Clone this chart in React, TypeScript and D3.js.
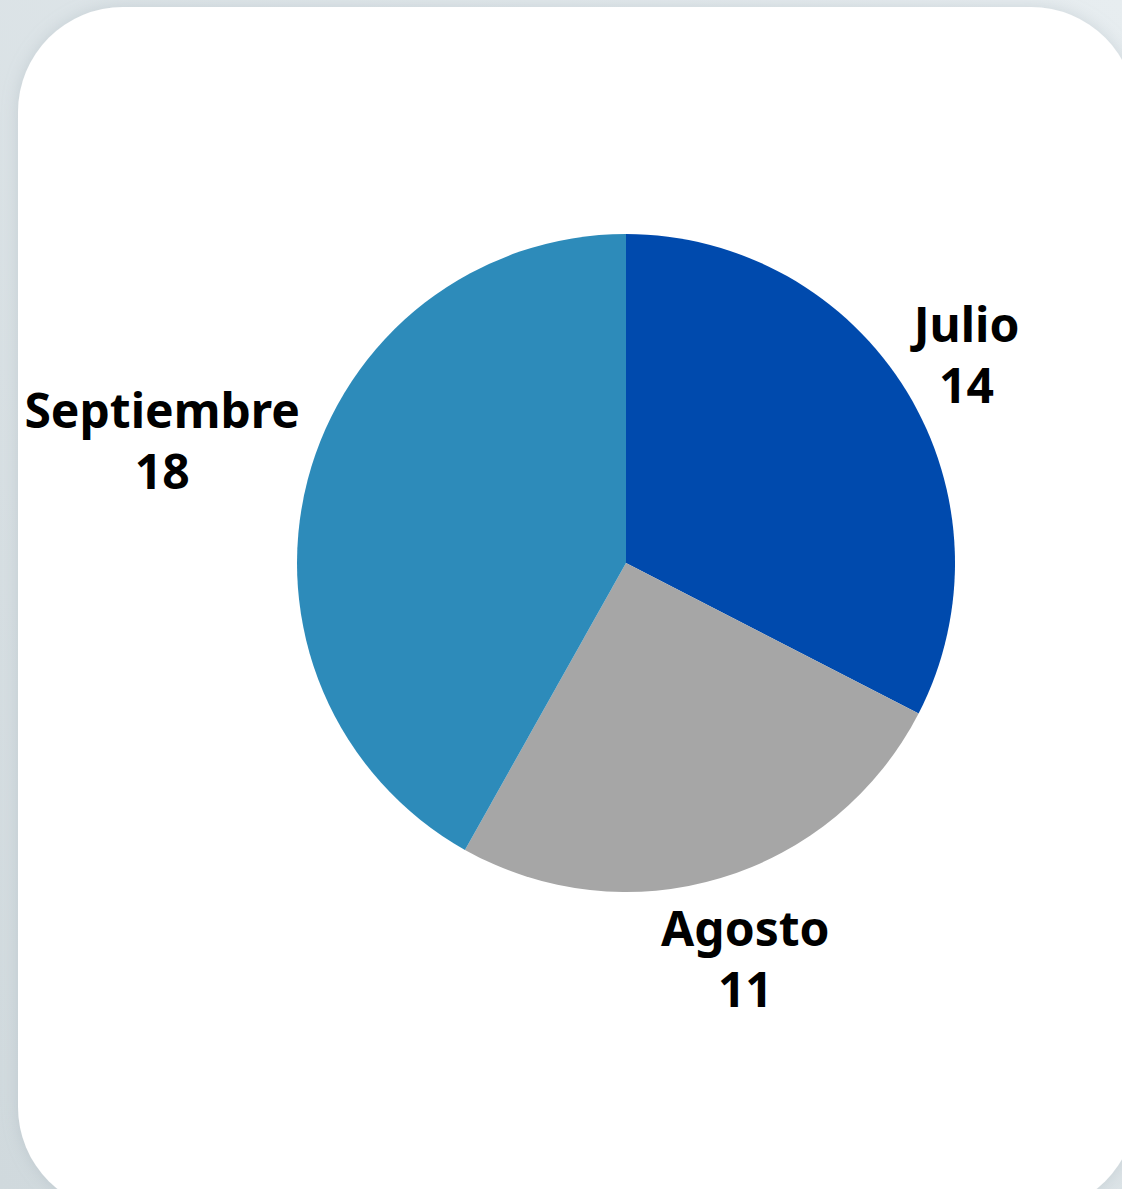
import React, { useEffect, useRef } from "react";
import * as d3 from "d3";

const months = ["Julio", "Agosto", "Septiembre"];
const counts = [14, 11, 18];
const sliceColors = ["#004AAD", "#A6A6A6", "#2D8BBA"];

const W = 1122;
const H = 1189;
const CX = 626;
const CY = 563;
const R = 329;
const FONT = 48;
const LINE_GAP = 61;
const CAP = 0.714 * FONT;
const OFFSET = 8;
const HALF_H = 74;

export default function App() {
  const ref = useRef<SVGSVGElement | null>(null);

  useEffect(() => {
    const svg = d3.select(ref.current);
    svg.selectAll("*").remove();

    const defs = svg.append("defs");
    const grad = defs
      .append("linearGradient")
      .attr("id", "bg")
      .attr("x1", "1")
      .attr("y1", "0")
      .attr("x2", "0")
      .attr("y2", "1");
    grad.append("stop").attr("offset", "0%").attr("stop-color", "#E7EDF0");
    grad.append("stop").attr("offset", "100%").attr("stop-color", "#D0D9DD");

    const filt = defs
      .append("filter")
      .attr("id", "shadow")
      .attr("x", "-10%")
      .attr("y", "-10%")
      .attr("width", "120%")
      .attr("height", "120%");
    filt
      .append("feDropShadow")
      .attr("dx", 0)
      .attr("dy", 0)
      .attr("stdDeviation", 8)
      .attr("flood-color", "#9AA8B0")
      .attr("flood-opacity", 0.35);

    svg.append("rect").attr("x", 0).attr("y", 0).attr("width", W).attr("height", H).attr("fill", "url(#bg)");

    svg
      .append("rect")
      .attr("x", 18)
      .attr("y", 7)
      .attr("width", 1118)
      .attr("height", 1205)
      .attr("rx", 105)
      .attr("ry", 105)
      .attr("fill", "#FFFFFF")
      .attr("filter", "url(#shadow)");

    const data = months.map((m, i) => ({ month: m, value: counts[i], color: sliceColors[i] }));
    const pie = d3
      .pie<any>()
      .value((d: any) => d.value)
      .sort(null)
      .startAngle(0)
      .endAngle(2 * Math.PI);
    const arcs = pie(data);
    const arc = d3.arc<any>().innerRadius(0).outerRadius(R);

    const g = svg.append("g").attr("transform", `translate(${CX},${CY})`);
    g.selectAll("path.slice")
      .data(arcs)
      .enter()
      .append("path")
      .attr("class", "slice")
      .attr("d", arc as any)
      .attr("fill", (d: any) => d.data.color);

    const lg = g.append("g").attr("font-family", "'Noto Sans', sans-serif").attr("font-weight", 700).attr("font-size", FONT).attr("fill", "#000");

    arcs.forEach((a: any) => {
      const mid = (a.startAngle + a.endAngle) / 2;
      const sx = Math.sin(mid);
      const sy = -Math.cos(mid);
      const t = lg.append("text").attr("text-anchor", "middle");
      const t1 = t.append("tspan").attr("x", 0).text(a.data.month);
      const t2 = t.append("tspan").attr("x", 0).text(String(a.data.value));
      const w = Math.max(
        (t1.node() as SVGTextContentElement).getComputedTextLength(),
        (t2.node() as SVGTextContentElement).getComputedTextLength()
      );
      const ex = Math.abs(sx) > 1e-6 ? w / 2 / Math.abs(sx) : Infinity;
      const ey = Math.abs(sy) > 1e-6 ? HALF_H / Math.abs(sy) : Infinity;
      const dist = R + OFFSET + Math.min(ex, ey);
      const px = sx * dist;
      const py = sy * dist;
      t1.attr("x", px).attr("y", py - LINE_GAP / 2 + CAP / 2);
      t2.attr("x", px).attr("y", py + LINE_GAP / 2 + CAP / 2);
    });
  }, []);

  return (
    <svg
      ref={ref}
      width={W}
      height={H}
      style={{ position: "absolute", left: 0, top: 0, display: "block" }}
    />
  );
}
